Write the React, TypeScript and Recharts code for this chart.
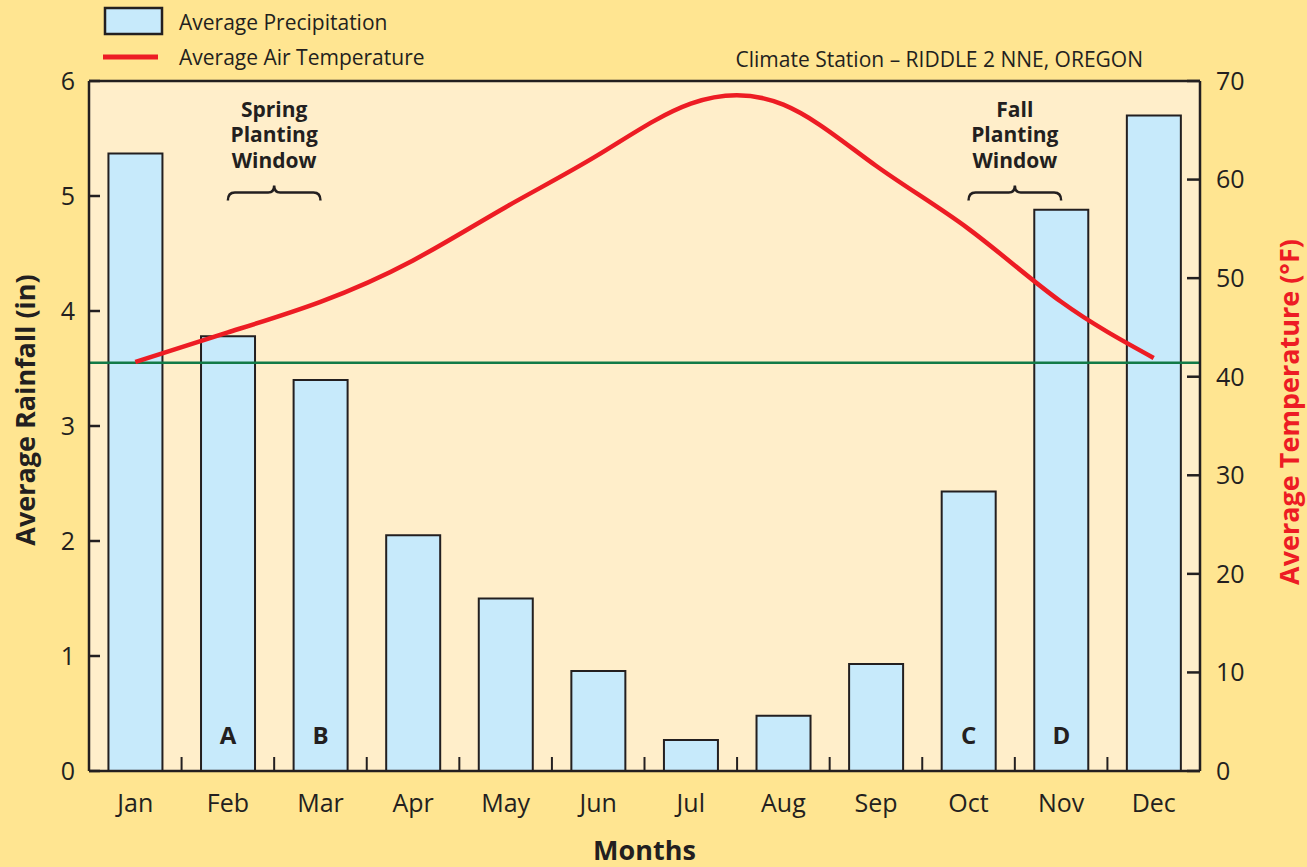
import React from 'react';
import {
  ComposedChart,
  Bar,
  Line,
  XAxis,
  YAxis,
  CartesianGrid,
  ReferenceLine,
  LabelList,
  Legend,
} from 'recharts';

const months = ['Jan', 'Feb', 'Mar', 'Apr', 'May', 'Jun', 'Jul', 'Aug', 'Sep', 'Oct', 'Nov', 'Dec'];
const rainfall = [5.37, 3.78, 3.4, 2.05, 1.5, 0.87, 0.27, 0.48, 0.93, 2.43, 4.88, 5.7];
const temperature = [41.5, 44.5, 47.6, 51.8, 57.2, 62.5, 67.7, 67.6, 61.4, 55.0, 47.6, 41.9];
const windowLetters = ['', 'A', 'B', '', '', '', '', '', '', 'C', 'D', ''];
const rainTicks = [0, 1, 2, 3, 4, 5, 6];
const tempTicks = [0, 10, 20, 30, 40, 50, 60, 70];
const thresholdRain = 3.55;
const plantingWindows = [
  { lines: ['Spring', 'Planting', 'Window'], from: 'Feb', to: 'Mar', level: 5.03 },
  { lines: ['Fall', 'Planting', 'Window'], from: 'Oct', to: 'Nov', level: 5.03 },
];
const stationTitle = 'Climate Station \u2013 RIDDLE 2 NNE, OREGON';

const data = months.map((m, i) => ({
  month: m,
  rain: rainfall[i],
  temp: temperature[i],
  letter: windowLetters[i],
}));

const INK = '#231F20';
const RED = '#ED1C24';
const BLUE = '#C7EAFB';
const GREEN = '#127A47';
const OUTER = '#FFE591';
const INNER = '#FFEECA';

const LegendContent = (props: any) => {
  const payload = (props.payload || []) as any[];
  const barItem = payload.find((p: any) => p.dataKey === 'rain');
  const lineItem = payload.find((p: any) => p.dataKey === 'temp');
  return (
    <svg width={1307} height={81} style={{ display: 'block' }}>
      <rect x={105} y={8} width={57} height={26} fill={BLUE} stroke={INK} strokeWidth={2.5} />
      <text x={179} y={30} fontSize={21} fill={INK}>
        {barItem ? barItem.value : 'Average Precipitation'}
      </text>
      <line x1={103} x2={158} y1={57} y2={57} stroke={RED} strokeWidth={5} />
      <text x={179} y={65} fontSize={21} fill={INK}>
        {lineItem ? lineItem.value : 'Average Air Temperature'}
      </text>
      <text x={1143} y={67} fontSize={21} fill={INK} textAnchor="end">
        {stationTitle}
      </text>
    </svg>
  );
};

const WindowMark = (props: any) => {
  const { x1, x2, y1, lines } = props;
  if (x1 == null || x2 == null || y1 == null) return null;
  const cx = (x1 + x2) / 2;
  const cy = y1;
  const l = Math.min(x1, x2);
  const r = Math.max(x1, x2);
  const d = `M ${l} ${cy + 8} Q ${l} ${cy} ${l + 7} ${cy} L ${cx - 6} ${cy} Q ${cx} ${cy} ${cx} ${cy - 7} Q ${cx} ${cy} ${cx + 6} ${cy} L ${r - 7} ${cy} Q ${r} ${cy} ${r} ${cy + 8}`;
  return (
    <g>
      {lines.map((t: string, i: number) => (
        <text
          key={i}
          x={cx}
          y={cy - 76 + i * 25.5}
          textAnchor="middle"
          fontSize={21}
          fontWeight={700}
          fill={INK}
        >
          {t}
        </text>
      ))}
      <path d={d} fill="none" stroke={INK} strokeWidth={2.5} />
    </g>
  );
};

const BoundaryTick = (props: any) => {
  const { x1, x2, y1 } = props;
  if (x1 == null || x2 == null || y1 == null) return null;
  const x = (x1 + x2) / 2;
  return <line x1={x} x2={x} y1={y1} y2={y1 - 14} stroke={INK} strokeWidth={2} />;
};

const LetterLabel = (props: any) => {
  const vb = props.viewBox && typeof props.viewBox.x === 'number' ? props.viewBox : props;
  const { x, y, width, height } = vb;
  if (!props.value) return null;
  return (
    <text
      x={x + width / 2}
      y={y + height - 27}
      textAnchor="middle"
      fontSize={24}
      fontWeight={700}
      fill={INK}
    >
      {props.value}
    </text>
  );
};

const LeftTitle = (props: any) => {
  const vb = props.viewBox;
  const cx = vb.x + 24;
  const cy = vb.y + vb.height / 2 - 16;
  return (
    <text
      x={cx}
      y={cy}
      transform={`rotate(-90 ${cx} ${cy})`}
      textAnchor="middle"
      dominantBaseline="central"
      fontSize={27}
      fontWeight={700}
      fill={INK}
    >
      Average Rainfall (in)
    </text>
  );
};

const RightTitle = (props: any) => {
  const vb = props.viewBox;
  const cx = vb.x + 88;
  const cy = vb.y + vb.height / 2 - 14;
  return (
    <text
      x={cx}
      y={cy}
      transform={`rotate(-90 ${cx} ${cy})`}
      textAnchor="middle"
      dominantBaseline="central"
      fontSize={27}
      fontWeight={700}
      fill={RED}
    >
      Average Temperature (°F)
    </text>
  );
};

const BottomTitle = (props: any) => {
  const vb = props.viewBox;
  return (
    <text
      x={vb.x + vb.width / 2}
      y={vb.y + 89}
      textAnchor="middle"
      fontSize={27}
      fontWeight={700}
      fill={INK}
    >
      Months
    </text>
  );
};

export default function App() {
  return (
    <div
      style={{
        position: 'absolute',
        left: 0,
        top: 0,
        width: 1307,
        height: 867,
        background: OUTER,
        fontFamily: "'Open Sans', 'Noto Sans', sans-serif",
      }}
    >
      <ComposedChart
        width={1307}
        height={867}
        data={data}
        margin={{ top: 81, right: 0, bottom: 0, left: 0 }}
        barCategoryGap="21%"
      >
        <CartesianGrid yAxisId="rain" fill={INNER} stroke="none" horizontal={false} vertical={false} />
        <XAxis
          dataKey="month"
          height={96}
          interval={0}
          tickLine={false}
          tickSize={0}
          tickMargin={23}
          axisLine={{ stroke: INK, strokeWidth: 2.5 }}
          tick={{ fontSize: 25, fill: INK }}
          label={{ content: BottomTitle }}
        />
        <YAxis
          yAxisId="rain"
          width={89}
          domain={[0, 6]}
          ticks={rainTicks}
          interval={0}
          tickSize={-11}
          tickMargin={25}
          tickLine={{ stroke: INK, strokeWidth: 2.5 }}
          axisLine={{ stroke: INK, strokeWidth: 2.5 }}
          tick={{ fontSize: 25, fill: INK }}
          label={{ content: LeftTitle }}
        />
        <YAxis
          yAxisId="temp"
          orientation="right"
          width={107}
          domain={[0, 70]}
          ticks={tempTicks}
          interval={0}
          tickSize={-13}
          tickMargin={29}
          tickLine={{ stroke: INK, strokeWidth: 2.5 }}
          axisLine={{ stroke: INK, strokeWidth: 2.5 }}
          tick={{ fontSize: 25, fill: INK }}
          label={{ content: RightTitle }}
        />
        <Legend
          layout="horizontal"
          verticalAlign="middle"
          align="center"
          wrapperStyle={{ top: 0, left: 0, width: 1307, height: 81 }}
          content={LegendContent}
        />
        <Bar
          yAxisId="rain"
          dataKey="rain"
          name="Average Precipitation"
          fill={BLUE}
          stroke={INK}
          strokeWidth={2}
          isAnimationActive={false}
          legendType="rect"
        >
          <LabelList dataKey="letter" content={LetterLabel} />
        </Bar>
        {months.slice(0, -1).map((m, i) => (
          <ReferenceLine
            key={m}
            yAxisId="rain"
            segment={[
              { x: m, y: 0 },
              { x: months[i + 1], y: 0 },
            ]}
            shape={BoundaryTick}
          />
        ))}
        <ReferenceLine yAxisId="rain" y={6} stroke={INK} strokeWidth={2.5} />
        <ReferenceLine yAxisId="rain" y={thresholdRain} stroke={GREEN} strokeWidth={2.5} />
        {plantingWindows.map((w) => (
          <ReferenceLine
            key={w.from}
            yAxisId="rain"
            segment={[
              { x: w.from, y: w.level },
              { x: w.to, y: w.level },
            ]}
            shape={(p: any) => <WindowMark {...p} lines={w.lines} />}
          />
        ))}
        <Line
          yAxisId="temp"
          dataKey="temp"
          name="Average Air Temperature"
          type="natural"
          stroke={RED}
          strokeWidth={4.5}
          dot={false}
          activeDot={false}
          isAnimationActive={false}
          legendType="line"
        />
      </ComposedChart>
    </div>
  );
}
